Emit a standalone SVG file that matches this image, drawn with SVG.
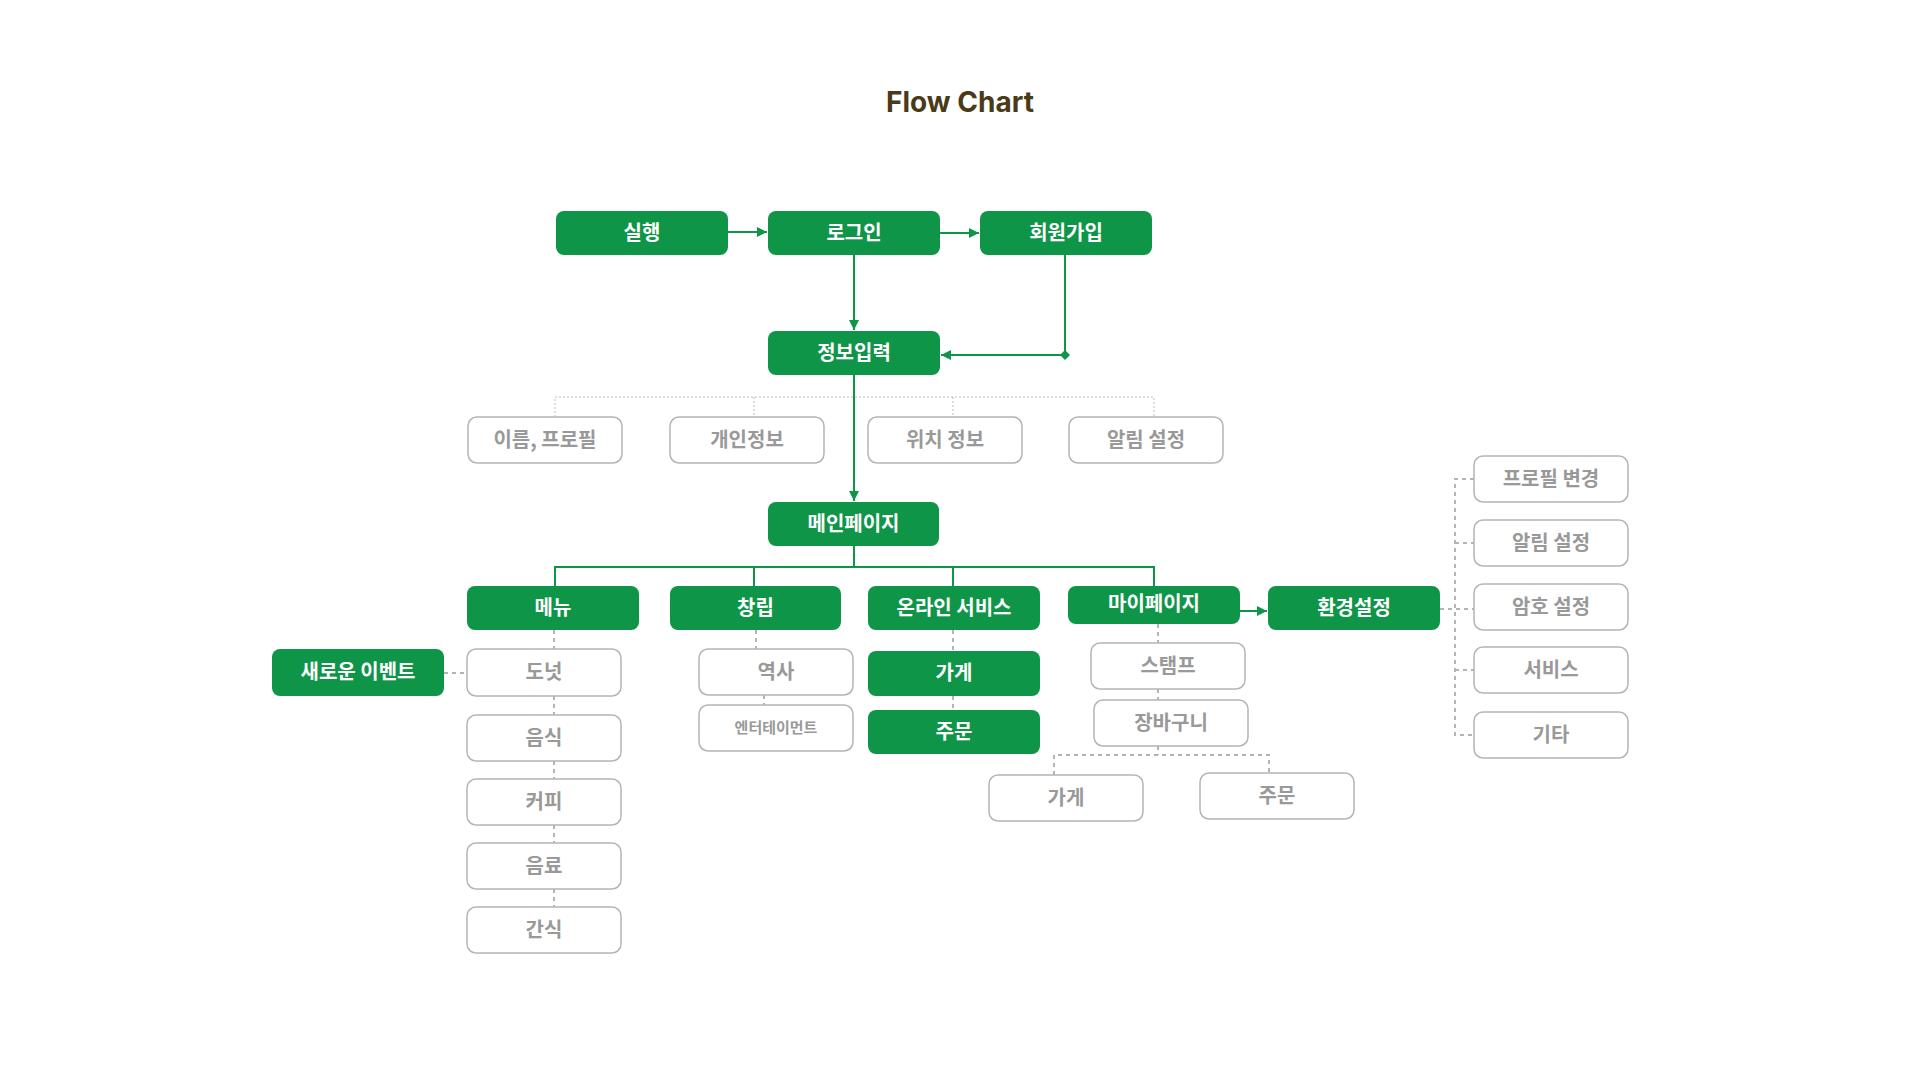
<svg xmlns="http://www.w3.org/2000/svg" width="1920" height="1080" viewBox="0 0 1920 1080">
<defs>
<style>
.g rect{fill:#0e9548}
.g text{fill:#fff}
.o rect{fill:#fff;stroke:#b4b4b4;stroke-width:1.5}
.o text{fill:#999999}
text{font-family:"Noto Sans CJK KR","Noto Sans",sans-serif;font-weight:700;font-size:20px;text-anchor:middle;dominant-baseline:central;transform:translateY(-2px)}
.title{font-family:Inter,"Liberation Sans",sans-serif;font-size:28px;fill:#4a3a18;dominant-baseline:alphabetic;transform:none}
.solid{stroke:#0e9548;stroke-width:2;fill:none}
.dot{stroke:#bdbdbd;stroke-width:1;stroke-dasharray:2 2;fill:none}
.dash{stroke:#b4b4b4;stroke-width:2;stroke-dasharray:4 4;fill:none}
</style>
<marker id="ah" viewBox="0 0 10 10" refX="10" refY="5" markerWidth="10" markerHeight="10" markerUnits="userSpaceOnUse" orient="auto">
<path d="M0,0 L10,5 L0,10 Z" fill="#0e9548"/>
</marker>
</defs>
<rect width="1920" height="1080" fill="#fff"/>
<text class="title" x="960" y="112">Flow Chart</text>

<g id="connectors">
<line class="solid" x1="728" y1="232" x2="767" y2="232" marker-end="url(#ah)"/>
<line class="solid" x1="940" y1="233" x2="979" y2="233" marker-end="url(#ah)"/>
<line class="solid" x1="854" y1="255" x2="854" y2="330" marker-end="url(#ah)"/>
<polyline class="solid" points="1065,255 1065,355 941,355" marker-end="url(#ah)"/>
<path d="M1065,350 L1070,355 L1065,360 L1060,355 Z" fill="#0e9548"/>
<line class="solid" x1="854" y1="375" x2="854" y2="501" marker-end="url(#ah)"/>
<path class="dot" d="M555,417 V397 H1154 V417 M754,397 V417 M953,397 V417"/>
<path class="solid" d="M854,546 V567 M555,586 V567 H1154 V586 M754,567 V586 M953,567 V586"/>
<path class="dash" d="M554,630 V649 M554,696 V715 M554,761 V779 M554,825 V843 M554,889 V907"/>
<path class="dash" d="M444,673 H467"/>
<path class="dash" d="M756,630 V649 M764,695 V705"/>
<path class="dash" d="M953,630 V651 M953,696 V710"/>
<path class="dash" d="M1158,624 V643 M1158,689 V700 M1158,746 V755 M1054,775 V755 H1269 V773"/>
<line class="solid" x1="1240" y1="611" x2="1267" y2="611" marker-end="url(#ah)"/>
<path class="dash" d="M1440,609 H1474 M1474,479 H1455 V735 H1474 M1455,543 H1474 M1455,670 H1474"/>
</g>

<g id="n-run" class="g"><rect x="556" y="211" width="172" height="44" rx="8"/><text x="642" y="233">실행</text></g>
<g id="n-login" class="g"><rect x="768" y="211" width="172" height="44" rx="8"/><text x="854" y="233">로그인</text></g>
<g id="n-signup" class="g"><rect x="980" y="211" width="172" height="44" rx="8"/><text x="1066" y="233">회원가입</text></g>
<g id="n-info" class="g"><rect x="768" y="331" width="172" height="44" rx="8"/><text x="854" y="353">정보입력</text></g>

<g id="n-name" class="o"><rect x="468" y="417" width="154" height="46" rx="9"/><text x="545" y="440">이름, 프로필</text></g>
<g id="n-personal" class="o"><rect x="670" y="417" width="154" height="46" rx="9"/><text x="747" y="440">개인정보</text></g>
<g id="n-location" class="o"><rect x="868" y="417" width="154" height="46" rx="9"/><text x="945" y="440">위치 정보</text></g>
<g id="n-alarm1" class="o"><rect x="1069" y="417" width="154" height="46" rx="9"/><text x="1146" y="440">알림 설정</text></g>

<g id="n-main" class="g"><rect x="768" y="502" width="171" height="44" rx="8"/><text x="853.5" y="524">메인페이지</text></g>

<g id="n-menu" class="g"><rect x="467" y="586" width="172" height="44" rx="8"/><text x="553" y="608">메뉴</text></g>
<g id="n-found" class="g"><rect x="670" y="586" width="171" height="44" rx="8"/><text x="755.5" y="608">창립</text></g>
<g id="n-online" class="g"><rect x="868" y="586" width="172" height="44" rx="8"/><text x="954" y="608">온라인 서비스</text></g>
<g id="n-mypage" class="g"><rect x="1068" y="586" width="172" height="38" rx="8"/><text x="1154" y="604">마이페이지</text></g>
<g id="n-settings" class="g"><rect x="1268" y="586" width="172" height="44" rx="8"/><text x="1354" y="608">환경설정</text></g>

<g id="n-event" class="g"><rect x="272" y="649" width="172" height="47" rx="8"/><text x="358" y="672.5">새로운 이벤트</text></g>
<g id="n-donut" class="o"><rect x="467" y="649" width="154" height="47" rx="9"/><text x="544" y="672.5">도넛</text></g>
<g id="n-food" class="o"><rect x="467" y="715" width="154" height="46" rx="9"/><text x="544" y="738">음식</text></g>
<g id="n-coffee" class="o"><rect x="467" y="779" width="154" height="46" rx="9"/><text x="544" y="802">커피</text></g>
<g id="n-drink" class="o"><rect x="467" y="843" width="154" height="46" rx="9"/><text x="544" y="866">음료</text></g>
<g id="n-snack" class="o"><rect x="467" y="907" width="154" height="46" rx="9"/><text x="544" y="930">간식</text></g>

<g id="n-history" class="o"><rect x="699" y="649" width="154" height="46" rx="9"/><text x="776" y="672">역사</text></g>
<g id="n-ent" class="o"><rect x="699" y="705" width="154" height="46" rx="9"/><text x="776" y="728" style="font-size:15px">엔터테이먼트</text></g>

<g id="n-store-g" class="g"><rect x="868" y="651" width="172" height="45" rx="8"/><text x="954" y="673.5">가게</text></g>
<g id="n-order-g" class="g"><rect x="868" y="710" width="172" height="44" rx="8"/><text x="954" y="732">주문</text></g>

<g id="n-stamp" class="o"><rect x="1091" y="643" width="154" height="46" rx="9"/><text x="1168" y="666">스탬프</text></g>
<g id="n-cart" class="o"><rect x="1094" y="700" width="154" height="46" rx="9"/><text x="1171" y="723">장바구니</text></g>
<g id="n-store-o" class="o"><rect x="989" y="775" width="154" height="46" rx="9"/><text x="1066" y="798">가게</text></g>
<g id="n-order-o" class="o"><rect x="1200" y="773" width="154" height="46" rx="9"/><text x="1277" y="796">주문</text></g>

<g id="n-profile" class="o"><rect x="1474" y="456" width="154" height="46" rx="9"/><text x="1551" y="479">프로필 변경</text></g>
<g id="n-alarm2" class="o"><rect x="1474" y="520" width="154" height="46" rx="9"/><text x="1551" y="543">알림 설정</text></g>
<g id="n-password" class="o"><rect x="1474" y="584" width="154" height="46" rx="9"/><text x="1551" y="607">암호 설정</text></g>
<g id="n-service" class="o"><rect x="1474" y="647" width="154" height="46" rx="9"/><text x="1551" y="670">서비스</text></g>
<g id="n-etc" class="o"><rect x="1474" y="712" width="154" height="46" rx="9"/><text x="1551" y="735">기타</text></g>
</svg>
